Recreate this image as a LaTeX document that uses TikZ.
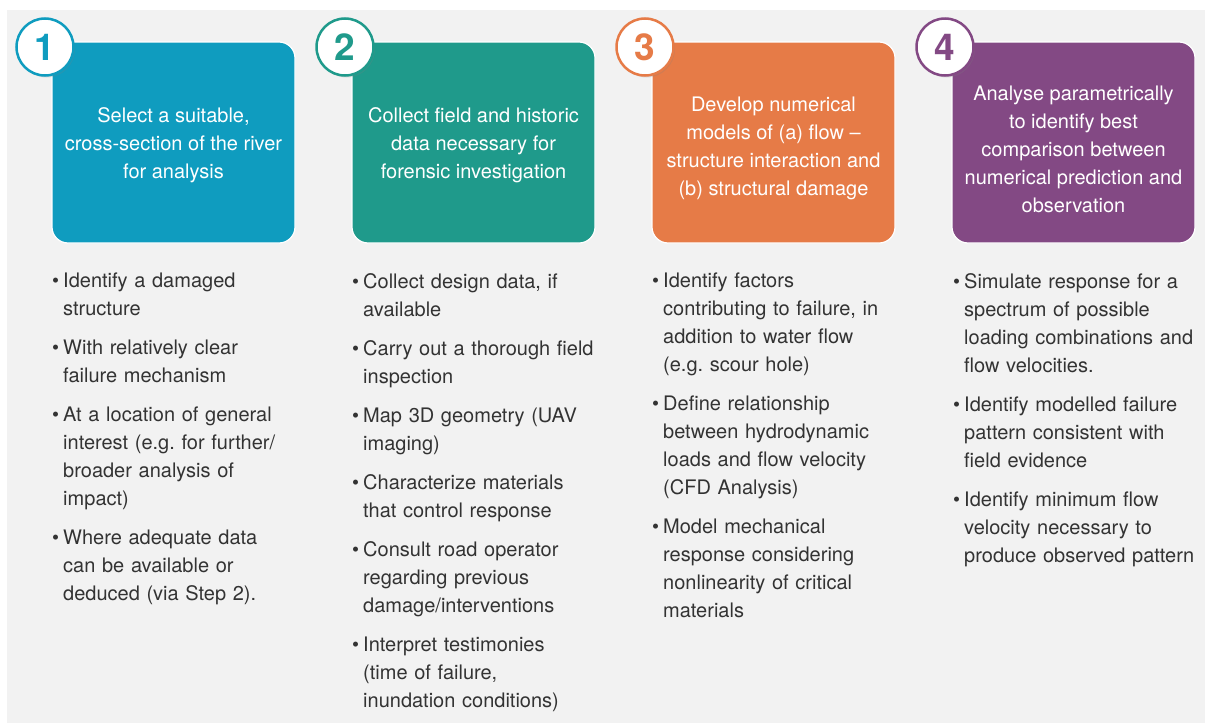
\documentclass[tikz,border=0pt]{standalone}
\usepackage{fontspec}
\setmainfont{TeX Gyre Heros}
\usetikzlibrary{shadows}

\definecolor{panelgrey}{HTML}{F2F2F2}
\definecolor{bodytext}{HTML}{333333}
\definecolor{stepblue}{HTML}{0F9CBF}
\definecolor{stepgreen}{HTML}{1F9A8B}
\definecolor{steporange}{HTML}{E67B47}
\definecolor{steppurple}{HTML}{834984}

\newcommand{\pointitem}[1]{\noindent\hangindent=11pt\hangafter=1\makebox[11pt][l]{\textbullet}{\let\\\newline #1}\par\vspace{11pt}}

\begin{document}
\begin{tikzpicture}[x=1pt, y=-1pt,
	stepbox/.style={rectangle, rounded corners=16pt, draw=white, line width=1.2pt, minimum width=243pt, minimum height=201pt},
	steptitle/.style={align=center, text=white, inner sep=0pt, font=\fontsize{20}{28}\selectfont},
	stepnum/.style={circle, fill=white, line width=2.5pt, minimum size=57pt, inner sep=0pt, font=\fontsize{37}{37}\selectfont\bfseries, drop shadow={shadow xshift=1.5pt, shadow yshift=-2pt, opacity=0.2}},
	pointlist/.style={anchor=north west, inner sep=0pt, text width=260pt, align=left, text=bodytext, font=\fontsize{20}{28}\selectfont}]
	\useasboundingbox (0, 0) rectangle (1205, 723);
	\fill[panelgrey] (7, 10) rectangle (1205, 723);

	\node[stepbox, fill=stepblue] (box-1) at (173.5, 142.5) {};
	\node[stepbox, fill=stepgreen] (box-2) at (473.5, 142.5) {};
	\node[stepbox, fill=steporange] (box-3) at (773.5, 142.5) {};
	\node[stepbox, fill=steppurple] (box-4) at (1073.5, 142.5) {};

	\node[steptitle] (title-1) at ([yshift=-3pt]box-1.center) {Select a suitable,\\cross-section of the river\\for analysis};
	\node[steptitle] (title-2) at ([yshift=-3pt]box-2.center) {Collect field and historic\\data necessary for\\forensic investigation};
	\node[steptitle] (title-3) at ([yshift=-6pt]box-3.center) {Develop numerical\\models of (a) flow --\\structure interaction and\\(b) structural damage};
	\node[steptitle] (title-4) at ([yshift=-7pt]box-4.center) {Analyse parametrically\\to identify best\\comparison between\\numerical prediction and\\observation};

	\node[stepnum, draw=stepblue, text=stepblue] (num-1) at (45, 47) {1};
	\node[stepnum, draw=stepgreen, text=stepgreen] (num-2) at (345, 47) {2};
	\node[stepnum, draw=steporange, text=steporange] (num-3) at (645, 47) {3};
	\node[stepnum, draw=steppurple, text=steppurple] (num-4) at (945, 47) {4};

	\node[pointlist] (list-1) at (52, 273) {
		\pointitem{Identify a damaged\\structure}
		\pointitem{With relatively clear\\failure mechanism}
		\pointitem{At a location of general\\interest (e.g.\ for further/\\broader analysis of\\impact)}
		\pointitem{Where adequate data\\can be available or\\deduced (via Step 2).}};
	\node[pointlist] (list-2) at (352, 273) {
		\pointitem{Collect design data, if\\available}
		\pointitem{Carry out a thorough field\\inspection}
		\pointitem{Map 3D geometry (UAV\\imaging)}
		\pointitem{Characterize materials\\that control response}
		\pointitem{Consult road operator\\regarding previous\\damage/interventions}
		\pointitem{Interpret testimonies\\(time of failure,\\inundation conditions)}};
	\node[pointlist] (list-3) at (652, 273) {
		\pointitem{Identify factors\\contributing to failure, in\\addition to water flow\\(e.g.\ scour hole)}
		\pointitem{Define relationship\\between hydrodynamic\\loads and flow velocity\\(CFD Analysis)}
		\pointitem{Model mechanical\\response considering\\nonlinearity of critical\\materials}};
	\node[pointlist] (list-4) at (953, 273) {
		\pointitem{Simulate response for a\\spectrum of possible\\loading combinations and\\flow velocities.}
		\pointitem{Identify modelled failure\\pattern consistent with\\field evidence}
		\pointitem{Identify minimum flow\\velocity necessary to\\produce observed pattern}};
\end{tikzpicture}
\end{document}
